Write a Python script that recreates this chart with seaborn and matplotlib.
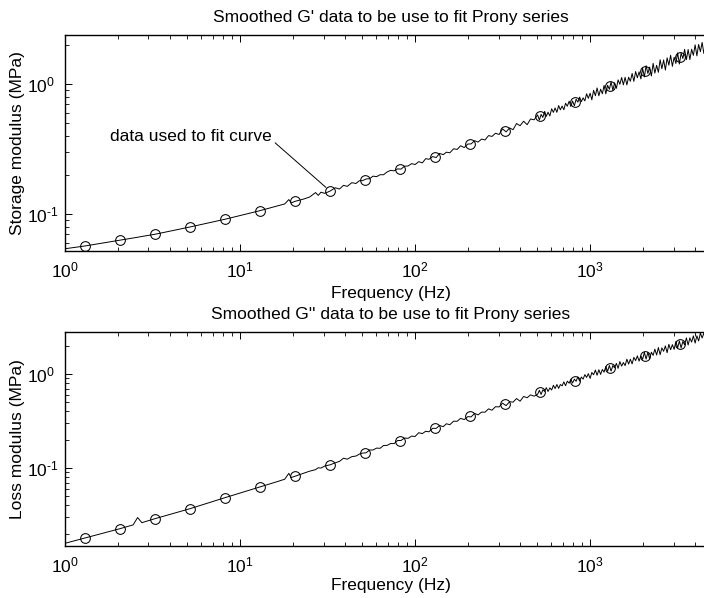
import numpy as np
import matplotlib
matplotlib.use('Agg')
import matplotlib.pyplot as plt
import seaborn as sns
from matplotlib.ticker import LogLocator, NullFormatter, FuncFormatter

sns.set_theme(style='ticks')
plt.rcParams['font.family'] = ['Liberation Sans', 'DejaVu Sans']
plt.rcParams['mathtext.fontset'] = 'custom'
plt.rcParams['mathtext.rm'] = 'Liberation Sans'
plt.rcParams['mathtext.default'] = 'regular'
plt.rcParams['text.color'] = 'black'
plt.rcParams['axes.labelcolor'] = 'black'

# measured frequencies (Hz), shared by G' and G''
freq = [1.0, 1.3, 2.06, 2.45, 2.6, 2.75, 3.27, 5.18, 8.2, 13.0, 16.0, 18.0,
        19.0, 19.6, 20.6, 23.0, 25.0, 27.0, 28.0, 29.0, 30.5, 32.7, 35.0,
        37.0, 39.0, 41.0, 43.5, 46.0, 48.0,
        50.1, 52.5, 55.0, 57.5, 60.3, 63.1, 66.1, 69.2, 72.4, 75.9, 79.4,
        83.2, 87.1, 91.2, 95.5, 100, 105, 110, 115, 120, 126, 132, 138, 145,
        151, 158, 166, 174, 182, 191, 200, 209, 219, 229, 240, 251, 263, 275,
        288, 302, 316, 331, 347, 363, 380, 398, 417, 437, 457, 479,
        501, 513, 525, 537, 550, 562, 575, 589, 603, 617, 631, 646, 661, 676,
        692, 708, 724, 741, 759, 776, 794, 813, 832, 851, 871, 891, 912, 933,
        955, 977, 1000, 1023, 1047, 1072, 1096, 1122, 1148, 1175, 1202, 1230,
        1259, 1288, 1318, 1349, 1380, 1413, 1445, 1479, 1514, 1549, 1585,
        1622, 1660, 1698, 1738, 1778, 1820, 1862, 1905, 1950, 1995, 2042,
        2089, 2138, 2188, 2239, 2291, 2344, 2399, 2455, 2512, 2570, 2630,
        2692, 2754, 2818, 2884, 2951, 3020, 3090, 3162, 3236, 3311, 3388,
        3467, 3548, 3631, 3715, 3802, 3890, 3981, 4074, 4169, 4266, 4365,
        4467, 4571, 4677, 4786, 4898, 5012]

# storage modulus G' (MPa), smoothed raw trace
storage = [0.0540, 0.0567, 0.0628, 0.0653, 0.0662, 0.0671, 0.0698, 0.0794,
           0.0910, 0.1060, 0.1143, 0.1194, 0.1290, 0.1215, 0.1250, 0.1300,
           0.1350, 0.1460, 0.1390, 0.1470, 0.1440, 0.1500, 0.1590, 0.1555,
           0.1660, 0.1630, 0.1740, 0.1715, 0.1800,
           0.1803, 0.1858, 0.1867, 0.1954, 0.1935, 0.2003, 0.2003, 0.2103,
           0.2163, 0.2147, 0.2221, 0.2213, 0.2332, 0.2338, 0.2438, 0.2400,
           0.2525, 0.2471, 0.2663, 0.2632, 0.2761, 0.2716, 0.2922, 0.2858,
           0.2986, 0.2954, 0.3170, 0.3138, 0.3345, 0.3242, 0.3449, 0.3458,
           0.3658, 0.3570, 0.3768, 0.3707, 0.4007, 0.3946, 0.4176, 0.4086,
           0.4514, 0.4276, 0.4587, 0.4448, 0.4963, 0.4772, 0.5167, 0.4861,
           0.5377, 0.5298,
           0.5779, 0.5284, 0.5828, 0.5525, 0.6154, 0.5634, 0.6064, 0.5673,
           0.6443, 0.6043, 0.6535, 0.6049, 0.6822, 0.6324, 0.6762, 0.6329,
           0.7101, 0.6740, 0.7370, 0.6706, 0.7392, 0.6796, 0.7634, 0.7246,
           0.7928, 0.7302, 0.7817, 0.7404, 0.8407, 0.7747, 0.8489, 0.7551,
           0.8931, 0.8113, 0.9316, 0.8108, 0.9116, 0.8402, 0.9744, 0.8393,
           0.9769, 0.9099, 1.0355, 0.8931, 1.0217, 0.9255, 1.0746, 0.9936,
           1.1210, 0.9847, 1.1240, 0.9836, 1.1263, 1.0475, 1.2041, 1.0467,
           1.2461, 1.1143, 1.2394, 1.0934, 1.3175, 1.1325, 1.3801, 1.2045,
           1.3468, 1.1513, 1.4406, 1.2114, 1.3904, 1.2289, 1.5340, 1.3080,
           1.5284, 1.2798, 1.5853, 1.3953, 1.6607, 1.3659, 1.6038, 1.4368,
           1.7336, 1.4226, 1.7266, 1.5690, 1.8460, 1.5369, 1.8391, 1.5401,
           1.8498, 1.6594, 1.9984, 1.6437, 2.0113, 1.7702, 2.0861, 1.7118,
           2.0776, 1.8229, 2.2214, 1.8494, 2.2131]

# loss modulus G'' (MPa), smoothed raw trace
loss = [0.0158, 0.0180, 0.0226, 0.0248, 0.0297, 0.0262, 0.0289, 0.0369,
        0.0483, 0.0628, 0.0708, 0.0759, 0.0877, 0.0790, 0.0817, 0.0877,
        0.0925, 0.0960, 0.1005, 0.0998, 0.1050, 0.1080, 0.1135, 0.1175,
        0.1270, 0.1240, 0.1320, 0.1340, 0.1405,
        0.1440, 0.1450, 0.1554, 0.1553, 0.1628, 0.1619, 0.1736, 0.1739,
        0.1819, 0.1817, 0.1958, 0.1963, 0.2083, 0.2067, 0.2183, 0.2164,
        0.2373, 0.2321, 0.2458, 0.2426, 0.2643, 0.2639, 0.2834, 0.2751,
        0.2955, 0.2886, 0.3146, 0.3140, 0.3372, 0.3273, 0.3517, 0.3497,
        0.3808, 0.3670, 0.3930, 0.3922, 0.4257, 0.4116, 0.4485, 0.4462,
        0.4893, 0.4608, 0.5068, 0.5017, 0.5481, 0.5133, 0.5760, 0.5589,
        0.5993, 0.5807,
        0.6076, 0.6700, 0.6065, 0.6784, 0.6525, 0.7149, 0.6516, 0.7114,
        0.6754, 0.7584, 0.7000, 0.7724, 0.7030, 0.7728, 0.7473, 0.8240,
        0.7507, 0.8391, 0.7977, 0.8793, 0.8014, 0.8799, 0.8359, 0.9328,
        0.8395, 0.9282, 0.8813, 0.9840, 0.9191, 1.0078, 0.8978, 1.0379,
        0.9811, 1.1017, 0.9691, 1.1096, 0.9896, 1.1169, 1.0457, 1.2040,
        1.0680, 1.2309, 1.0721, 1.2300, 1.1619, 1.2961, 1.1473, 1.3551,
        1.2123, 1.3233, 1.2277, 1.4376, 1.2752, 1.4369, 1.2802, 1.5026,
        1.3873, 1.5593, 1.3699, 1.5581, 1.4293, 1.6975, 1.4408, 1.7008,
        1.4518, 1.7026, 1.5784, 1.8381, 1.5915, 1.9105, 1.6041, 1.8962,
        1.7429, 1.9900, 1.6830, 2.0686, 1.8105, 2.0524, 1.8252, 2.2147,
        1.9004, 2.2397, 1.8942, 2.2214, 2.0378, 2.4201, 2.0319, 2.4247,
        2.1849, 2.5442, 2.1320, 2.5483, 2.2447, 2.7239, 2.4126, 2.7291,
        2.3555, 2.8898, 2.5062, 2.9224, 2.5540]

# points picked out to fit the Prony series
fit_freq = [1.3, 2.06, 3.27, 5.18, 8.2, 13.0, 20.6, 32.7, 51.8, 82.1, 130,
            206, 327, 518, 821, 1300, 2060, 3270]
fit_storage = [0.0567, 0.0628, 0.0698, 0.0794, 0.091, 0.106, 0.125, 0.150,
               0.183, 0.222, 0.274, 0.345, 0.435, 0.567, 0.727, 0.966, 1.26,
               1.61]
fit_loss = [0.0180, 0.0226, 0.0289, 0.0369, 0.0483, 0.0628, 0.0817, 0.108,
            0.1455, 0.195, 0.264, 0.360, 0.478, 0.645, 0.840, 1.15, 1.57,
            2.10]

titles = ["Smoothed G' data to be use to fit Prony series",
          "Smoothed G'' data to be use to fit Prony series"]
ylabels = ['Storage modulus (MPa)', 'Loss modulus (MPa)']
xlim = (1, 5300)
ylims = [(0.0519, 2.38), (0.0148, 2.80)]
fs = 12.5


def pow10(val, pos):
    # matlab style exponent with a short hyphen
    e = int(round(np.log10(val)))
    sign = '\u2010' if e < 0 else ''
    return r'$\mathdefault{10^{%s%d}}$' % (sign, abs(e))


def draw_panel(ax, raw, fit, title, ylabel, ylim, xpad):
    ax.set_xscale('log')
    ax.set_yscale('log')
    sns.lineplot(x=freq, y=raw, ax=ax, color='black', linewidth=0.7,
                 estimator=None, sort=False)
    sns.lineplot(x=fit_freq, y=fit, ax=ax, color='black', marker='o',
                 linestyle='none', markerfacecolor='none',
                 markeredgecolor='black', markeredgewidth=0.75,
                 markersize=7, estimator=None, sort=False)
    ax.set_xlim(*xlim)
    ax.set_ylim(*ylim)
    for axis in (ax.xaxis, ax.yaxis):
        axis.set_major_locator(LogLocator(base=10))
        axis.set_minor_locator(LogLocator(base=10, subs=range(2, 10)))
        axis.set_major_formatter(FuncFormatter(pow10))
        axis.set_minor_formatter(NullFormatter())
    ax.tick_params(which='both', direction='in', bottom=True, left=True,
                   top=True, right=True, colors='black', labelsize=fs)
    ax.tick_params(which='major', length=5, width=0.7)
    ax.tick_params(which='minor', length=3, width=0.6)
    ax.tick_params(axis='x', pad=7)
    ax.tick_params(axis='y', pad=27)
    for sp in ax.spines.values():
        sp.set_visible(True)
        sp.set_color('black')
        sp.set_linewidth(1.0)
    ax.set_title(title, fontsize=fs, pad=9.5)
    ax.set_xlabel('Frequency (Hz)', fontsize=fs, labelpad=xpad)
    ax.set_ylabel(ylabel, fontsize=fs)
    ax.yaxis.set_label_coords(-0.061, 0.5)
    for lab in ax.get_yticklabels():
        lab.set_horizontalalignment('left')


fig = plt.figure(figsize=(7.04, 5.98), dpi=100)
ax1 = fig.add_axes([0.0923, 0.5803, 0.926, 0.3612])
ax2 = fig.add_axes([0.0923, 0.0870, 0.926, 0.3579])

draw_panel(ax1, storage, fit_storage, titles[0], ylabels[0], ylims[0], 4)
draw_panel(ax2, loss, fit_loss, titles[1], ylabels[1], ylims[1], 2)

ax1.annotate('data used to fit curve', xy=(32.7, 0.150), xytext=(15.2, 0.391),
             ha='right', va='center', fontsize=fs,
             arrowprops=dict(arrowstyle='-', color='black', lw=0.7,
                             relpos=(1.0, 0.3), shrinkA=0, shrinkB=4))

fig.savefig('out.png', dpi=100)
